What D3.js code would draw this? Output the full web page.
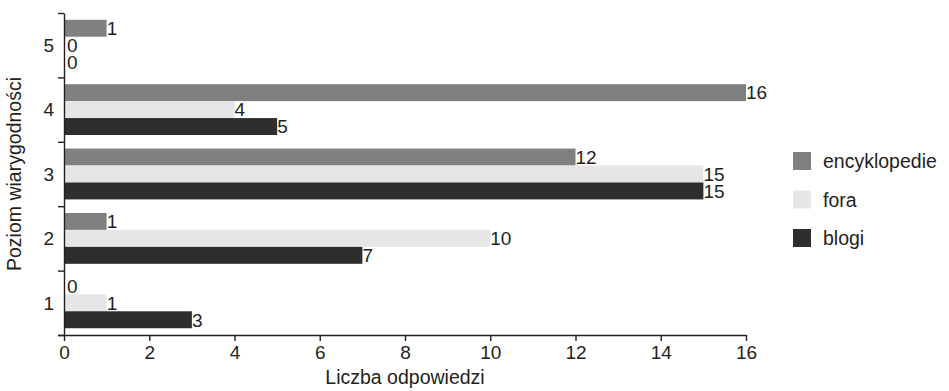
<!DOCTYPE html>
<html>
<head>
<meta charset="utf-8">
<script src="https://cdn.jsdelivr.net/npm/d3@7"></script>
<style>
  html, body { margin: 0; padding: 0; background: #fff; }
  svg { display: block; font-family: "Liberation Sans", Arial, Helvetica, sans-serif; }
</style>
</head>
<body>
<svg id="chart" width="949" height="391"></svg>
<script>
// Credibility levels (bottom to top) and answer counts per source type
const levels = ["1", "2", "3", "4", "5"];
const seriesNames = ["encyklopedie", "fora", "blogi"];
const encyklopedie = [0, 1, 12, 16, 1];
const fora = [1, 10, 15, 4, 0];
const blogi = [3, 7, 15, 5, 0];
const xTicks = [0, 2, 4, 6, 8, 10, 12, 14, 16];
const colors = ["#808081", "#e6e6e8", "#2e2e2e"];

const values = { encyklopedie, fora, blogi };
const rows = levels.map((lv, i) => ({
  level: lv,
  items: seriesNames.map(s => ({ series: s, value: values[s][i] }))
}));

const svg = d3.select("#chart");
const plotLeft = 64, plotRight = 746, plotTop = 13, plotBottom = 335;
const textColor = "#231f20";

const x = d3.scaleLinear().domain([0, 16]).range([plotLeft, plotRight]);
const y = d3.scaleBand().domain(levels).range([plotBottom, plotTop]).paddingInner(0).paddingOuter(0);
const yInner = d3.scaleBand().domain(seriesNames).range([0, y.bandwidth()]).paddingInner(0).paddingOuter(0.4);
const color = d3.scaleOrdinal().domain(seriesNames).range(colors);

// Bars
const groups = svg.append("g").selectAll("g")
  .data(rows).join("g")
  .attr("transform", d => `translate(0,${y(d.level)})`);

groups.selectAll("rect")
  .data(d => d.items).join("rect")
  .attr("x", x(0))
  .attr("y", d => yInner(d.series))
  .attr("width", d => x(d.value) - x(0))
  .attr("height", yInner.bandwidth())
  .attr("fill", d => color(d.series));

// Value labels
groups.selectAll("text")
  .data(d => d.items).join("text")
  .attr("x", d => x(d.value) + (d.value === 0 ? 3 : 0))
  .attr("y", d => yInner(d.series) + yInner.bandwidth() / 2)
  .attr("dy", "0.36em")
  .attr("font-size", 19)
  .attr("fill", textColor)
  .text(d => d.value);

// X axis
const xAxis = svg.append("g")
  .attr("transform", `translate(0,${plotBottom})`)
  .call(d3.axisBottom(x).tickValues(xTicks).tickSize(6).tickSizeOuter(0).tickPadding(5));
xAxis.selectAll("text").attr("font-size", 19).attr("fill", textColor);

// Y axis: ticks on band boundaries, labels at band centres
const yBound = d3.scaleLinear().domain([0, levels.length]).range([plotBottom, plotTop]);
const yAxis = svg.append("g")
  .attr("transform", `translate(${plotLeft},0)`)
  .call(d3.axisLeft(yBound).ticks(levels.length).tickSize(6).tickSizeOuter(0).tickFormat(""));
svg.selectAll(".domain, .tick line").attr("stroke", textColor).attr("stroke-width", 1.4);
xAxis.select(".domain").attr("d", `M${plotLeft - 6},0.5H${plotRight}`);

svg.append("g").selectAll("text")
  .data(levels).join("text")
  .attr("x", plotLeft - 10)
  .attr("y", d => y(d) + y.bandwidth() / 2)
  .attr("dy", "0.36em")
  .attr("text-anchor", "end")
  .attr("font-size", 19)
  .attr("fill", textColor)
  .text(d => d);

// Axis titles
svg.append("text")
  .attr("x", (plotLeft + plotRight) / 2)
  .attr("y", 384)
  .attr("text-anchor", "middle")
  .attr("font-size", 19.5)
  .attr("fill", textColor)
  .text("Liczba odpowiedzi");

svg.append("text")
  .attr("transform", `translate(21,${(plotTop + plotBottom) / 2}) rotate(-90)`)
  .attr("text-anchor", "middle")
  .attr("font-size", 19.5)
  .attr("fill", textColor)
  .text("Poziom wiarygodności");

// Legend
const legend = svg.append("g").attr("transform", "translate(793,152)");
const li = legend.selectAll("g").data(seriesNames).join("g")
  .attr("transform", (d, i) => `translate(0,${i * 38.5})`);
li.append("rect").attr("width", 18).attr("height", 18).attr("fill", d => color(d));
li.append("text")
  .attr("x", 30).attr("y", 9).attr("dy", "0.36em")
  .attr("font-size", 19.5)
  .attr("fill", textColor)
  .text(d => d);
</script>
</body>
</html>
